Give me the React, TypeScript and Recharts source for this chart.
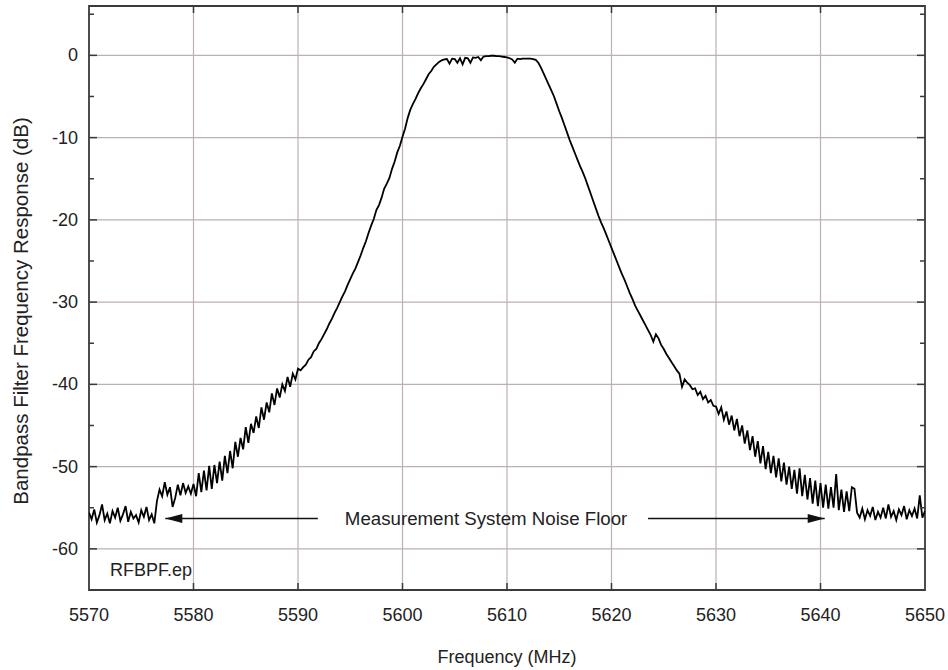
import React from 'react';
import {
  LineChart,
  Line,
  XAxis,
  YAxis,
  CartesianGrid,
  ReferenceArea,
  ReferenceLine,
  ReferenceDot,
} from 'recharts';

// Analyzer sweep: 0.25 MHz per sample, levels in dB relative to passband
const SWEEP_STEP = 0.25;

const floorLow = [
  -55.6, -56.4, -55.2, -56.8, -55.9, -54.6, -56.5, -55.7, -56.9, -55.4,
  -56.2, -55.0, -56.6, -55.8, -54.8, -56.7, -55.5, -56.3, -55.9, -56.8,
  -55.3, -56.1, -54.9, -56.5, -55.8, -56.9,
];
const stepLow = [
  -54.2, -52.8, -53.6, -51.9, -53.4, -52.5, -54.9, -53.8, -52.2, -53.5,
  -52.0, -53.2, -52.4, -53.3, -52.1,
];
const skirtLowNoisy = [
  -53.6, -50.8, -53.1, -50.5, -52.9, -49.9, -52.7, -49.8, -52.0, -49.4,
  -51.7, -48.7, -50.8, -48.1, -50.2, -47.0, -48.8, -46.5, -47.9, -45.2,
  -47.1, -44.8, -45.9, -43.9, -45.3, -42.8, -44.3, -42.2, -43.4, -41.1,
  -42.5, -40.5, -41.6, -40.0, -40.8, -39.1, -40.3, -38.7, -39.4, -38.1,
];
const skirtLow = [
  -38.3, -37.9, -37.6, -37.0, -36.7, -36.0, -35.7, -35.0, -34.5, -33.9,
  -33.3, -32.6, -32.0, -31.3, -30.7, -30.0, -29.3, -28.7, -27.9, -27.2,
  -26.5, -25.9, -25.1, -24.3, -23.4, -22.6, -21.6, -20.7, -19.9, -18.8,
  -18.2, -17.3, -16.2, -15.6, -14.9, -13.8, -12.9, -11.8, -11.0, -9.9,
];
const shoulderLow = [
  -8.9, -7.6, -6.6, -5.9, -5.3, -4.6, -4.0, -3.5, -2.9, -2.3,
  -1.9, -1.4, -1.1, -0.8, -0.6, -0.5,
];
const passband = [
  -0.45, -1.0, -0.4, -0.45, -0.9, -0.35, -1.1, -0.3, -0.35, -0.9,
  -0.25, -0.3, -0.2, -0.6, -0.15, -0.1, -0.1, -0.05, -0.05, -0.1,
  -0.1, -0.15, -0.2, -0.25, -0.35, -0.5, -0.9, -0.4, -0.45, -0.4,
  -0.4, -0.4, -0.4, -0.45, -0.55,
];
const skirtHigh = [
  -0.9, -1.5, -2.2, -2.9, -3.6, -4.3, -5.0, -5.9, -6.8, -7.6,
  -8.5, -9.4, -10.3, -11.1, -11.9, -12.7, -13.5, -14.2, -15.0, -15.9,
  -16.8, -17.7, -18.6, -19.5, -20.3, -21.0, -21.8, -22.6, -23.4, -24.2,
  -25.0, -25.8, -26.6, -27.3, -28.1, -28.9, -29.6, -30.4, -31.0, -31.6,
  -32.2, -32.8, -33.4, -34.0, -34.8, -33.9, -34.4, -35.2,
];
const skirtHighNoisy = [
  -35.7, -36.3, -36.8, -37.3, -37.8, -38.3, -38.7, -40.3, -39.4, -39.8,
  -40.1, -40.6, -40.5, -41.3, -40.9, -41.8, -41.4, -42.2, -41.9, -42.6,
  -42.7, -43.6, -42.8, -44.3, -43.3, -44.9, -43.8, -45.6, -44.2, -46.3,
  -45.0, -47.2, -45.6, -48.0, -46.3, -48.8, -46.9, -49.6, -47.5, -50.3,
  -48.2, -50.8, -48.7, -51.3, -49.0,
];
const tailHigh = [
  -51.8, -49.5, -52.2, -50.0, -52.7, -50.4, -53.3, -50.2, -53.6, -51.0,
  -54.0, -51.4, -54.5, -51.7, -54.8, -52.0, -55.0, -52.2, -55.1, -52.5,
  -55.0, -50.9, -55.3, -52.8, -55.5, -53.0, -55.4, -52.5, -52.7, -55.6,
];
const floorHigh = [
  -56.2, -55.1, -56.4, -55.3, -56.0, -54.9, -56.5, -55.5, -56.2, -55.0,
  -56.3, -54.6, -56.1, -55.4, -56.5, -55.2, -55.9, -54.8, -56.4, -55.3,
  -56.0, -55.1, -56.3, -53.5, -56.2, -55.4,
];

// start frequency (MHz) of each block of samples
const sweepBlocks: [number, number[]][] = [
  [5570, floorLow],
  [5576.5, stepLow],
  [5580.25, skirtLowNoisy],
  [5590.25, skirtLow],
  [5600.25, shoulderLow],
  [5604.25, passband],
  [5613, skirtHigh],
  [5625, skirtHighNoisy],
  [5636.25, tailHigh],
  [5643.75, floorHigh],
];

const freqTicks = [5570, 5580, 5590, 5600, 5610, 5620, 5630, 5640, 5650];
const levelTicks = [5, 0, -5, -10, -15, -20, -25, -30, -35, -40, -45, -50, -55, -60];
const gridLevels = [0, -10, -20, -30, -40, -50, -60];
const gridFreqs = [5580, 5590, 5600, 5610, 5620, 5630, 5640];

const FREQ_MIN = 5570;
const FREQ_MAX = 5650;
const LEVEL_MIN = -65;
const LEVEL_MAX = 6;

// noise-floor annotation: arrows run from tail to tip at this level
const noiseFloorLevel = -56.3;
const noiseFloorArrows = [
  { tail: 5591.9, tip: 5577.3 },
  { tail: 5623.5, tip: 5640.4 },
];
const noiseFloorText = { freq: 5608.0, text: 'Measurement System Noise Floor' };
const fileTag = { freq: 5572.0, level: -62.6, text: 'RFBPF.ep' };

const trace = sweepBlocks.flatMap(([start, levels]) =>
  levels.map((level, i) => ({ freq: start + i * SWEEP_STEP, level }))
);

const W = 948;
const H = 670;
const PLOT = { left: 89, right: 925, top: 6, bottom: 590 };
const FONT = '"Liberation Sans", Arial, Helvetica, sans-serif';
const INK = '#222';
const FRAME = '#3a3a3a';

const FreqTick = (props: any) => {
  const { x, payload } = props;
  const v = payload.value;
  const inner = v > FREQ_MIN && v < FREQ_MAX;
  return (
    <g>
      {inner && <line x1={x} x2={x} y1={PLOT.bottom} y2={PLOT.bottom - 7} stroke={FRAME} strokeWidth={1.5} />}
      {inner && <line x1={x} x2={x} y1={PLOT.top} y2={PLOT.top + 7} stroke={FRAME} strokeWidth={1.5} />}
      <text x={x} y={615} textAnchor="middle" dominantBaseline="central" fontSize={18} fontFamily={FONT} fill={INK}>
        {v}
      </text>
    </g>
  );
};

const LevelTick = (props: any) => {
  const { y, payload } = props;
  const v = payload.value;
  const major = v % 10 === 0;
  const len = major ? 8 : 5;
  return (
    <g>
      <line x1={PLOT.left} x2={PLOT.left + len} y1={y} y2={y} stroke={FRAME} strokeWidth={1.5} />
      <line x1={PLOT.right} x2={PLOT.right - len} y1={y} y2={y} stroke={FRAME} strokeWidth={1.5} />
      {major && v <= 0 && (
        <text x={78} y={y} textAnchor="end" dominantBaseline="central" fontSize={18} fontFamily={FONT} fill={INK}>
          {v}
        </text>
      )}
    </g>
  );
};

const XTitle = () => (
  <text x={507} y={657} textAnchor="middle" dominantBaseline="central" fontSize={18} fontFamily={FONT} fill={INK}>
    Frequency (MHz)
  </text>
);

const YTitle = () => (
  <text
    x={20}
    y={311}
    transform="rotate(-90 20 311)"
    textAnchor="middle"
    dominantBaseline="central"
    fontSize={20.5}
    fontFamily={FONT}
    fill={INK}
  >
    Bandpass Filter Frequency Response (dB)
  </text>
);

const arrowHead = (dir: number) => (props: any) => {
  const { cx, cy } = props;
  const len = 17;
  const half = 4.5;
  const back = cx - dir * len;
  return <path d={`M${cx},${cy} L${back},${cy - half} L${back},${cy + half} Z`} fill="#111" />;
};

const labelShape = (text: string, anchor: 'start' | 'middle', size: number) => (props: any) => (
  <text
    x={props.cx}
    y={props.cy}
    textAnchor={anchor}
    dominantBaseline="central"
    fontSize={size}
    fontFamily={FONT}
    fill={INK}
  >
    {text}
  </text>
);

export default function App() {
  return (
    <div style={{ width: W, height: H, background: '#fff' }}>
      <style>{'body{margin:0}'}</style>
      <LineChart width={W} height={H} data={trace} margin={{ top: PLOT.top, right: W - PLOT.right, bottom: 0, left: 0 }}>
        <CartesianGrid
          horizontalValues={gridLevels}
          verticalValues={gridFreqs}
          stroke="#bdb1ae"
          strokeWidth={1.2}
        />
        <XAxis
          dataKey="freq"
          type="number"
          domain={[FREQ_MIN, FREQ_MAX]}
          ticks={freqTicks}
          interval={0}
          allowDataOverflow
          axisLine={false}
          tickLine={false}
          height={H - PLOT.bottom}
          tick={<FreqTick />}
          label={<XTitle />}
        />
        <YAxis
          type="number"
          domain={[LEVEL_MIN, LEVEL_MAX]}
          ticks={levelTicks}
          interval={0}
          allowDataOverflow
          axisLine={false}
          tickLine={false}
          width={PLOT.left}
          tick={<LevelTick />}
          label={<YTitle />}
        />
        <ReferenceArea
          x1={FREQ_MIN}
          x2={FREQ_MAX}
          y1={LEVEL_MIN}
          y2={LEVEL_MAX}
          fill="none"
          fillOpacity={0}
          stroke={FRAME}
          strokeWidth={1.8}
        />
        {noiseFloorArrows.map((a, i) => (
          <ReferenceLine
            key={`shaft-${i}`}
            segment={[
              { x: a.tail, y: noiseFloorLevel },
              { x: a.tip, y: noiseFloorLevel },
            ]}
            stroke="#111"
            strokeWidth={1.6}
          />
        ))}
        {noiseFloorArrows.map((a, i) => (
          <ReferenceDot
            key={`head-${i}`}
            x={a.tip}
            y={noiseFloorLevel}
            shape={arrowHead(a.tip > a.tail ? 1 : -1)}
          />
        ))}
        <ReferenceDot x={noiseFloorText.freq} y={noiseFloorLevel} shape={labelShape(noiseFloorText.text, 'middle', 18.7)} />
        <ReferenceDot x={fileTag.freq} y={fileTag.level} shape={labelShape(fileTag.text, 'start', 18)} />
        <Line
          dataKey="level"
          type="linear"
          dot={false}
          stroke="#000"
          strokeWidth={1.8}
          isAnimationActive={false}
        />
      </LineChart>
    </div>
  );
}
